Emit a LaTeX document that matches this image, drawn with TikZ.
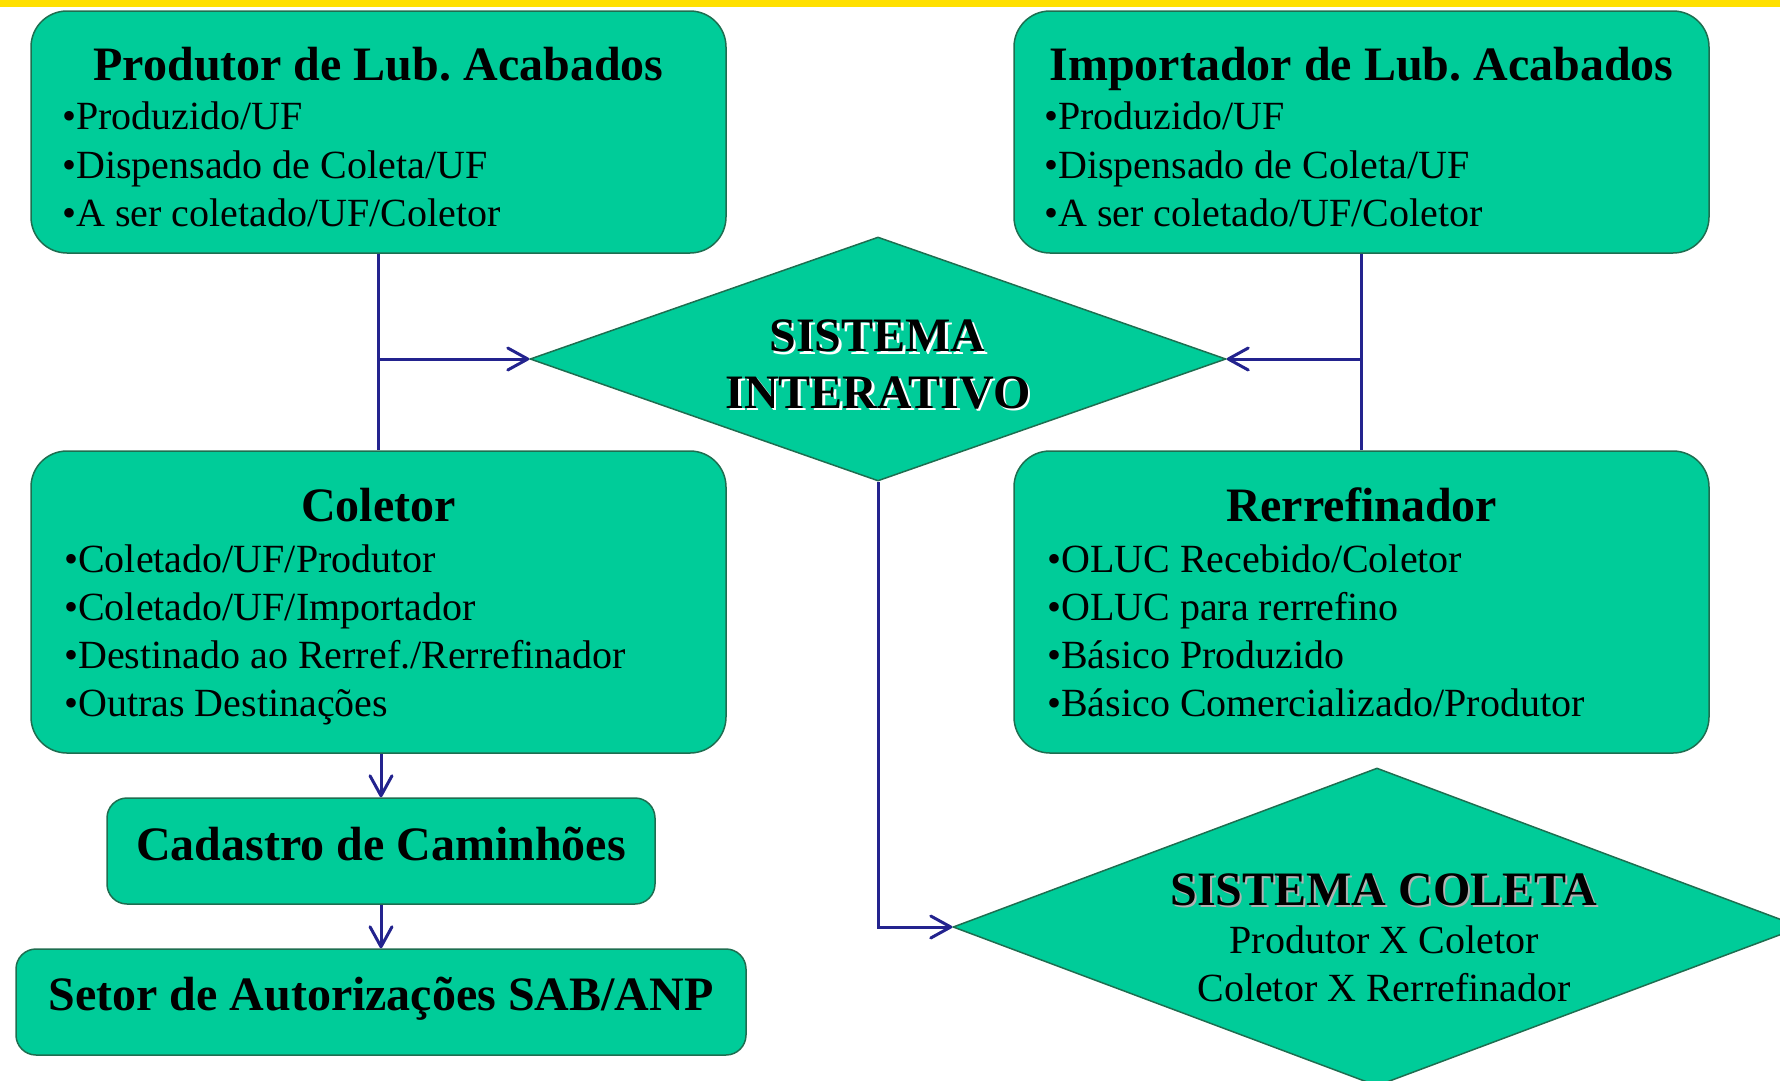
\documentclass[tikz,border=0pt]{standalone}
\usepackage{fontspec}
\setmainfont{Liberation Serif}
\usetikzlibrary{arrows.meta,shapes.geometric}
\definecolor{boxfill}{HTML}{00CC99}
\definecolor{boxedge}{HTML}{1E6E50}
\definecolor{conncol}{HTML}{23238E}
\definecolor{barcol}{HTML}{FFE000}
\frenchspacing
\tikzset{
  bigbox/.style={draw=boxedge,line width=1.5pt,fill=boxfill,rounded corners=36pt,rectangle,inner sep=0pt,minimum width=695pt},
  smallbox/.style={draw=boxedge,line width=1.5pt,fill=boxfill,rounded corners=20pt,rectangle,inner sep=0pt,minimum height=106pt},
  decision/.style={draw=boxedge,line width=1.5pt,fill=boxfill,diamond,inner sep=0pt},
  ttl/.style={inner sep=0pt,anchor=base,font=\fontsize{48}{56}\selectfont\bfseries},
  itm/.style={inner sep=0pt,anchor=base west,font=\fontsize{40}{48}\selectfont},
  sub/.style={inner sep=0pt,anchor=base,font=\fontsize{40}{48}\selectfont},
  conn/.style={draw=conncol,line width=3pt},
  arr/.style={-{Straight Barb[length=20pt,width=22pt,line width=3pt,round]}},
}
\begin{document}
\begin{tikzpicture}[x=1pt,y=-1pt]
\useasboundingbox (0,0) rectangle (1780,1080);
\fill[barcol] (0,0) rectangle (1780,7);

% boxes
\node[bigbox,minimum height=242pt] (b1) at (378.5,132) {};
\node[bigbox,minimum height=242pt] (b2) at (1361.5,132) {};
\node[bigbox,minimum height=302pt] (b3) at (378.5,602) {};
\node[bigbox,minimum height=302pt] (b4) at (1361.5,602) {};
\node[smallbox,minimum width=548pt] (b5) at (381,851) {};
\node[smallbox,minimum width=730pt] (b6) at (381,1002) {};
\node[decision,minimum width=696pt,minimum height=244pt] (d1) at (878,359) {};
\node[decision,minimum width=848pt,minimum height=318pt] (d2) at (1377,927) {};

% connectors
\coordinate (jl) at (b1.south |- d1.west);
\coordinate (jr) at (b2.south |- d1.east);
\draw[conn] (b1.south) -- (b3.north);
\draw[conn] (b2.south) -- (b4.north);
\draw[conn,arr] (jl) -- (d1.west);
\draw[conn,arr] (jr) -- (d1.east);
\draw[conn,arr] (d1.south) |- (d2.west);
\draw[conn,arr] (b3.south -| b5.north) -- (b5.north);
\draw[conn,arr] (b5.south) -- (b6.north);

% texts box 1
\node[ttl] (t1) at (378.5,80) {Produtor de Lub. Acabados};
\node[itm] (t1a) at (62,129) {•Produzido/UF};
\node[itm] (t1b) at (62,178) {•Dispensado de Coleta/UF};
\node[itm] (t1c) at (62,226) {•A ser coletado/UF/Coletor};

% texts box 2
\node[ttl] (t2) at (1361.5,80) {Importador de Lub. Acabados};
\node[itm] (t2a) at (1044,129) {•Produzido/UF};
\node[itm] (t2b) at (1044,178) {•Dispensado de Coleta/UF};
\node[itm] (t2c) at (1044,226) {•A ser coletado/UF/Coletor};

% texts box 3
\node[ttl] (t3) at (378.5,521) {Coletor};
\node[itm] (t3a) at (64,572) {•Coletado/UF/Produtor};
\node[itm] (t3b) at (64,620) {•Coletado/UF/Importador};
\node[itm] (t3c) at (64,668) {•Destinado ao Rerref./Rerrefinador};
\node[itm] (t3d) at (64,716) {•Outras Destinações};

% texts box 4
\node[ttl] (t4) at (1361.5,521) {Rerrefinador};
\node[itm] (t4a) at (1047,572) {•OLUC Recebido/Coletor};
\node[itm] (t4b) at (1047,620) {•OLUC para rerrefino};
\node[itm] (t4c) at (1047,668) {•Básico Produzido};
\node[itm] (t4d) at (1047,716) {•Básico Comercializado/Produtor};

% small boxes
\node[ttl] (t5) at (381,860) {Cadastro de Caminhões};
\node[ttl] (t6) at (381,1010) {Setor de Autorizações SAB/ANP};

% diamond 1 texts
\node[ttl,text=white] (s1s) at (880,354) {SISTEMA};
\node[ttl] (s1) at (877.5,351.5) {SISTEMA};
\node[ttl,text=white] (s2s) at (880.5,410.5) {INTERATIVO};
\node[ttl] (s2) at (878,408) {INTERATIVO};

% diamond 2 texts
\node[ttl,text=black!30] (c1s) at (1386,907.5) {SISTEMA COLETA};
\node[ttl] (c1) at (1384,905.5) {SISTEMA COLETA};
\node[sub] (c2) at (1384,953) {Produtor X Coletor};
\node[sub] (c3) at (1384,1001) {Coletor X Rerrefinador};
\end{tikzpicture}
\end{document}
